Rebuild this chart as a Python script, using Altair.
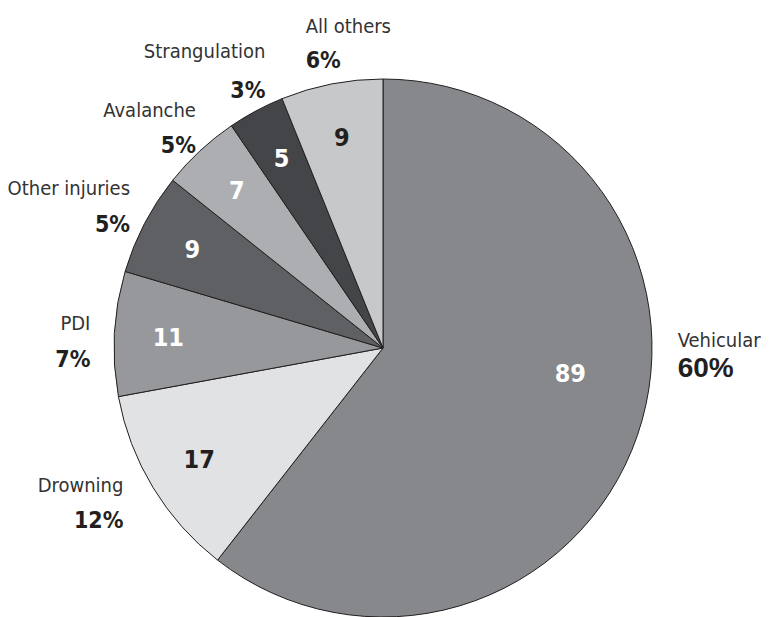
import altair as alt
import pandas as pd

causes = ["Vehicular", "Drowning", "PDI", "Other injuries", "Avalanche", "Strangulation", "All others"]
counts = [89, 17, 11, 9, 7, 5, 9]
percents = ["60%", "12%", "7%", "5%", "5%", "3%", "6%"]
colors = ["#87888b", "#e1e2e4", "#97989b", "#5f6064", "#adaeb1", "#444548", "#c7c8ca"]

df = pd.DataFrame({"cause": causes, "count": counts, "pct": percents,
                   "order": list(range(len(causes)))})
total = sum(counts)

CX, CY, R = 383, 348, 269
R_OUT, R_IN = 300, 215
NARROW = "DejaVu Sans Condensed, Liberation Sans Narrow, sans-serif"
WIDE = "Liberation Sans, Arial, sans-serif"
INK = "#231f20"

theta_mid = alt.Theta("mid:Q", stack=None, scale=alt.Scale(domain=[0, total]))

base = alt.Chart(df).transform_window(
    cum="sum(count)", sort=[alt.SortField("order")], frame=[None, 0]
).transform_calculate(mid="datum.cum - datum.count / 2")

pie = alt.Chart(df).mark_arc(outerRadius=R, stroke=INK, strokeWidth=1).encode(
    theta=alt.Theta("count:Q", stack=True),
    order=alt.Order("order:Q"),
    color=alt.Color("cause:N", scale=alt.Scale(domain=causes, range=colors), legend=None),
    x=alt.value(CX), y=alt.value(CY),
)

layers = [pie]

# inner count labels
inner_color = alt.condition(
    alt.FieldOneOfPredicate(field="cause", oneOf=["Drowning", "All others"]),
    alt.value(INK), alt.value("white"))
inner_nudge = {"Vehicular": (-16, -45)}
for c in causes:
    dx, dy = inner_nudge.get(c, (0, 0))
    layers.append(
        base.transform_filter(alt.datum.cause == c).mark_text(
            radius=R_IN, dx=dx, dy=dy + 9, align="center", baseline="alphabetic",
            font=NARROW, fontSize=25, fontWeight="bold"
        ).encode(theta=theta_mid, text="count:Q", color=inner_color,
                 x=alt.value(CX), y=alt.value(CY))
    )

# outer labels: (dx, dy of percent baseline, align, gap to name baseline)
outer = {
    "Vehicular": (11, -69, "left", 30),
    "Drowning": (-3, 24, "right", 36),
    "PDI": (7, 35, "right", 37),
    "Other injuries": (13, 23, "right", 37),
    "Avalanche": (17, 25, "right", 36),
    "Strangulation": (24, 14, "right", 40),
    "All others": (-20, 14, "left", 35),
}
for c in causes:
    dx, dy, align, gap = outer[c]
    sub = base.transform_filter(alt.datum.cause == c)
    layers.append(
        sub.mark_text(radius=R_OUT, dx=dx, dy=dy - gap, align=align, baseline="alphabetic",
                      font=NARROW, fontSize=20, fontWeight="normal", color="#333333")
        .encode(theta=theta_mid, text="cause:N", x=alt.value(CX), y=alt.value(CY))
    )
    layers.append(
        sub.mark_text(radius=R_OUT, dx=dx, dy=dy, align=align, baseline="alphabetic",
                      font=WIDE if c == "Vehicular" else NARROW,
                      fontSize=28 if c == "Vehicular" else 23, fontWeight="bold", color=INK)
        .encode(theta=theta_mid, text="pct:N", x=alt.value(CX), y=alt.value(CY))
    )

chart = alt.layer(*layers).resolve_scale(theta="independent").properties(
    width=770, height=617, padding=0, autosize=alt.AutoSizeParams(type="none"),
    background="white",
).configure_view(stroke=None)

chart.save("out.html", embed_options={"renderer": "svg", "actions": False})
